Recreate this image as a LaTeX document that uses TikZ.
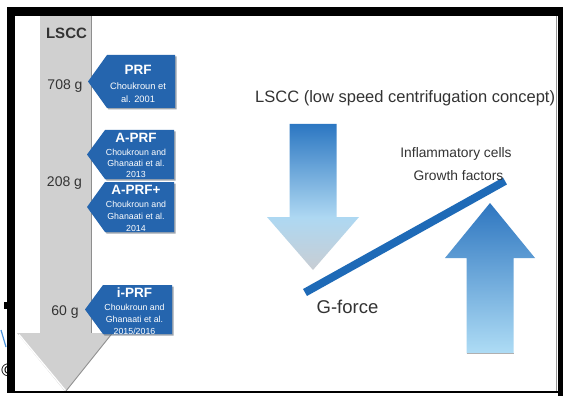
\documentclass[tikz,border=0pt]{standalone}
\usepackage{fontspec}
\setmainfont{Liberation Sans}
\definecolor{tagblue}{HTML}{2565AE}
\definecolor{shadowc}{HTML}{5E6B78}
\definecolor{arrgray}{HTML}{D0D0D0}
\definecolor{edgegray}{HTML}{8E8E8E}
\definecolor{txt}{HTML}{333333}
\definecolor{barblue}{HTML}{1E6AB7}
\definecolor{darrtop}{HTML}{2C77C2}
\definecolor{darrmid}{HTML}{AED8F2}
\definecolor{darrtip}{HTML}{C8CDD3}
\definecolor{uarrtop}{HTML}{2E76C0}
\definecolor{uarrbot}{HTML}{AEDCF5}
\definecolor{artblue}{HTML}{4A92DA}
\pgfdeclareverticalshading{downshade}{100bp}{color(0bp)=(darrtip); color(25bp)=(darrtip); color(43bp)=(darrmid); color(75bp)=(darrtop); color(100bp)=(darrtop)}
\begin{document}
\begin{tikzpicture}[x=1pt,y=-1pt,
  tagshape/.style={fill=tagblue},
  tagshadow/.style={fill=shadowc,opacity=0.6},
  tagtitle/.style={text=white,font=\fontsize{13.5}{15}\selectfont\bfseries,inner sep=0pt},
  tagref/.style={text=white,font=\fontsize{8.8}{11}\selectfont,align=center,inner sep=0pt},
  gval/.style={text=txt,font=\fontsize{14}{16}\selectfont,inner sep=0pt,anchor=base},
  rlabel/.style={text=txt,inner sep=0pt,anchor=base}]

\useasboundingbox (0,0) rectangle (563,396);
\fill[white] (0,0) rectangle (563,396);

% edge artifacts
\fill[black] (4,302) rectangle (7.5,309);
\draw[artblue,line width=1.2pt] (1,330) -- (6,347);
\node[text=black,font=\fontsize{18}{20}\selectfont,inner sep=0pt] (copy) at (8,370) {©};

% big gray arrow
\fill[arrgray] (40,10) -- (91,10) -- (91,333) -- (113,333) -- (65.5,392) -- (17,333) -- (40,333) -- cycle;
\draw[edgegray,line width=1pt] (91,10) -- (91,333);
\draw[white,line width=1.3pt] (19,334.5) -- (65.5,390.5);
\draw[edgegray,line width=0.8pt] (112,333.5) -- (66,391);

% tags with shadows
\foreach \d/\st in {1.5/tagshadow, 0/tagshape}{
  \begin{scope}[shift={(\d,\d)}]
    \fill[\st] (88,81.5) -- (107,55) -- (175,55) -- (175,108) -- (107,108) -- cycle;
    \fill[\st] (87,154.5) -- (105,130) -- (174,130) -- (174,179) -- (105,179) -- cycle;
    \fill[\st] (87,207) -- (105,182) -- (174,182) -- (174,232) -- (105,232) -- cycle;
    \fill[\st] (85,309.5) -- (103,285) -- (172,285) -- (172,334) -- (103,334) -- cycle;
  \end{scope}
}

% tag texts
\node[tagtitle] (prft) at (138,70) {PRF};
\node[tagref,font=\fontsize{9.3}{13}\selectfont] (prfr) at (138,93) {Choukroun et\\al. 2001};
\node[tagtitle] (aprft) at (136,137.7) {A-PRF};
\node[tagref] (aprfr) at (136,163) {Choukroun and\\Ghanaati et al.\\2013};
\node[tagtitle] (aprfpt) at (136,190) {A-PRF+};
\node[tagref,font=\fontsize{8.8}{12}\selectfont] (aprfpr) at (136,216.3) {Choukroun and\\Ghanaati et al.\\2014};
\node[tagtitle] (iprft) at (134.5,293) {i-PRF};
\node[tagref,font=\fontsize{8.8}{11.7}\selectfont] (iprfr) at (134.5,319.2) {Choukroun and\\Ghanaati et al.\\2015/2016};

% left labels
\node[rlabel,font=\fontsize{15}{17}\selectfont\bfseries] (lscc) at (66.5,39) {LSCC};
\node[gval] (g708) at (65,89.3) {708 g};
\node[gval] (g208) at (64.5,186.7) {208 g};
\node[gval] (g60) at (65,315) {60 g};

% right side arrows
\path[shading=downshade] (289.5,124) -- (336.5,124) -- (336.5,217) -- (359,217) -- (313,270) -- (267,217) -- (289.5,217) -- cycle;
\path[top color=uarrtop,bottom color=uarrbot] (490,203) -- (535,258) -- (513.5,258) -- (513.5,353) -- (466.5,353) -- (466.5,258) -- (445,258) -- cycle;
\draw[edgegray!70,line width=0.6pt] (466.5,353) -- (513.5,353);

% balance bar
\coordinate (barA) at (305,292.5);
\coordinate (barB) at (505,181);
\draw[barblue,line width=8pt] (barA) -- (barB);

% right texts
\node[rlabel,font=\fontsize{16.5}{18}\selectfont,anchor=base west] (title) at (255,102.5) {LSCC (low speed centrifugation concept)};
\node[rlabel,font=\fontsize{13.8}{16}\selectfont] (infl) at (456,157.5) {Inflammatory cells};
\node[rlabel,font=\fontsize{13.8}{16}\selectfont] (gf) at (458.5,180.7) {Growth factors};
\node[rlabel,font=\fontsize{18.5}{20}\selectfont] (gforce) at (347.5,313.3) {G-force};

% frame
\fill[black] (7,7) rectangle (563,16.5);
\fill[black] (7,7) rectangle (15,393);
\fill[black] (558,7) rectangle (563,396);
\fill[black] (7,390.5) rectangle (563,393);
\draw[gray!80,line width=1.2pt] (556.3,16.5) -- (556.3,390.5);
\end{tikzpicture}
\end{document}
